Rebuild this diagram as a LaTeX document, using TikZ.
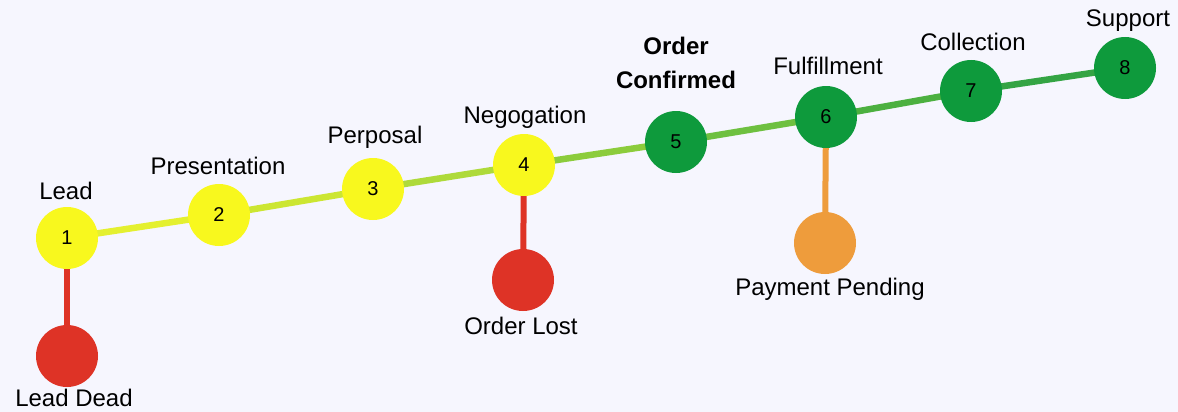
\documentclass[tikz,border=0pt]{standalone}
\usepackage{fontspec}
\setmainfont{Liberation Sans}
\definecolor{bg}{HTML}{F6F6FE}
\definecolor{yel}{HTML}{F8F81E}
\definecolor{grn}{HTML}{0E9A3C}
\definecolor{redc}{HTML}{DE3326}
\definecolor{orc}{HTML}{EE9C3C}
\definecolor{s1}{HTML}{E4F030}
\definecolor{s2}{HTML}{CCE632}
\definecolor{s3}{HTML}{AEDA3A}
\definecolor{s4}{HTML}{8CCC3C}
\definecolor{s5}{HTML}{6EC040}
\definecolor{s6}{HTML}{4CB040}
\definecolor{s7}{HTML}{34A444}
\pgfdeclarelayer{back}
\pgfdeclarelayer{lines}
\pgfsetlayers{back,lines,main}
\tikzset{
  stage/.style={circle, minimum size=62pt, inner sep=0pt, draw=none,
    font=\fontsize{20}{20}\selectfont},
  ystage/.style={stage, fill=yel},
  gstage/.style={stage, fill=grn},
  endnode/.style={circle, minimum size=62pt, inner sep=0pt, draw=none},
  lbl/.style={font=\fontsize{24}{28}\selectfont, inner sep=0pt},
  blbl/.style={font=\fontsize{24}{34}\selectfont\bfseries, inner sep=0pt, align=center},
  seg/.style={line width=6.5pt},
  drop/.style={line width=6pt}
}
\begin{document}
\begin{tikzpicture}[x=1pt,y=-1pt]
\begin{pgfonlayer}{back}
\fill[bg] (0,0) rectangle (1178,412);
\end{pgfonlayer}
\useasboundingbox (0,0) rectangle (1178,412);
% nodes
\node[ystage] (n1) at (67,238) {1};
\node[ystage] (n2) at (219,215) {2};
\node[ystage] (n3) at (373,189) {3};
\node[ystage] (n4) at (524,165) {4};
\node[gstage] (n5) at (676,142) {5};
\node[gstage] (n6) at (826,117) {6};
\node[gstage] (n7) at (971,91) {7};
\node[gstage] (n8) at (1125,68) {8};
\node[endnode, fill=redc] (d1) at (67,356) {};
\node[endnode, fill=redc] (d4) at (523,280) {};
\node[endnode, fill=orc] (d6) at (825,243) {};
% connectors (behind nodes)
\begin{pgfonlayer}{lines}
\draw[seg, s1] (n1.center) -- (n2.center);
\draw[seg, s2] (n2.center) -- (n3.center);
\draw[seg, s3] (n3.center) -- (n4.center);
\draw[seg, s4] (n4.center) -- (n5.center);
\draw[seg, s5] (n5.center) -- (n6.center);
\draw[seg, s6] (n6.center) -- (n7.center);
\draw[seg, s7] (n7.center) -- (n8.center);
\draw[drop, redc] (n1.center) -- (d1.center);
\draw[drop, redc] (n4.center) -- (d4.center);
\draw[drop, orc] (n6.center) -- (d6.center);
\end{pgfonlayer}
% labels
\node[lbl] (l1) at (66,191) {Lead};
\node[lbl] (l2) at (218,166) {Presentation};
\node[lbl] (l3) at (375,137) {Perposal};
\node[lbl] (l4) at (525,117) {Negogation};
\node[blbl] (l5) at (676,63) {Order\\Confirmed};
\node[lbl] (l6) at (828,66) {Fulfillment};
\node[lbl] (l7) at (973,42) {Collection};
\node[lbl] (l8) at (1128,21) {Support};
\node[lbl] (ld1) at (74,398) {Lead Dead};
\node[lbl] (ld4) at (521,326) {Order Lost};
\node[lbl] (ld6) at (830,289) {Payment Pending};
\end{tikzpicture}
\end{document}
